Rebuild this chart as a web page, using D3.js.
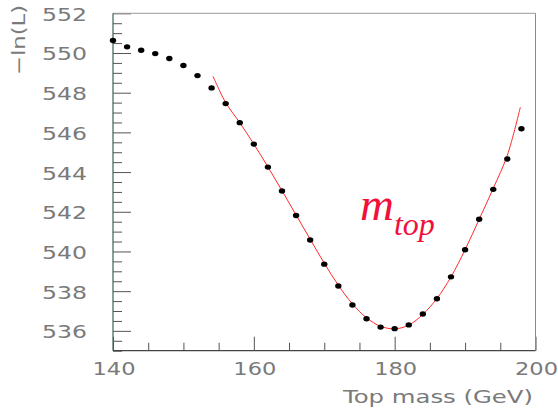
<!DOCTYPE html>
<html>
<head>
<meta charset="utf-8">
<script src="https://cdn.jsdelivr.net/npm/d3@7"></script>
<style>
  html, body { margin: 0; padding: 0; background: #fff; }
  svg { display: block; }
</style>
</head>
<body>
<script>
// ---- data ----
const massX = [140,142,144,146,148,150,152,154,156,158,160,162,164,166,168,170,172,174,176,178,180,182,184,186,188,190,192,194,196,198];
const lnL   = [550.63,550.31,550.14,549.97,549.72,549.37,548.86,548.24,547.45,546.49,545.41,544.25,543.05,541.81,540.58,539.36,538.26,537.30,536.61,536.19,536.11,536.30,536.85,537.62,538.72,540.09,541.62,543.13,544.66,546.18];
const fitX  = [154.2,156,158,160,162,164,166,168,170,172,174,176,178,180,182,184,186,188,190,192,194,196,197.85];
const fitY  = [548.83,547.50,546.49,545.41,544.26,543.06,541.84,540.62,539.41,538.30,537.36,536.66,536.23,536.10,536.29,536.83,537.63,538.72,540.09,541.62,543.18,544.85,547.27];
const xMajor = [140,160,180,200];
const yMajor = [536,538,540,542,544,546,548,550,552];
const xTitle = "Top mass (GeV)";
const yTitle = "\u2212ln(L)";

const W = 558, H = 410;
const L = 113, R = 535.5, T = 13.3, B = 350.7;

const svg = d3.select("body").append("svg").attr("width", W).attr("height", H);
const x = d3.scaleLinear().domain([140, 200]).range([L, R]);
const y = d3.scaleLinear().domain([535, 552]).range([B, T]);

const font = "DejaVu Sans, Verdana, sans-serif";
const grey = "#7a7a7a";

// minor & major ticks (inside)
const yMinor = d3.range(535, 552.01, 0.5).filter(v => !yMajor.includes(v));
const xMinor = d3.range(140, 200.01, 5).filter(v => !xMajor.includes(v));

const gy1 = svg.append("g").attr("transform", `translate(${L},0)`)
  .call(d3.axisLeft(y).tickValues(yMinor).tickSize(-9).tickFormat(""));
const gy2 = svg.append("g").attr("transform", `translate(${L},0)`)
  .call(d3.axisLeft(y).tickValues(yMajor).tickSize(-18).tickFormat(""));
const gx1 = svg.append("g").attr("transform", `translate(0,${B})`)
  .call(d3.axisBottom(x).tickValues(xMinor).tickSize(-8).tickFormat(""));
const gx2 = svg.append("g").attr("transform", `translate(0,${B})`)
  .call(d3.axisBottom(x).tickValues(xMajor).tickSize(-14).tickFormat(""));
[gy1, gy2, gx1, gx2].forEach(g => {
  g.select(".domain").remove();
  g.selectAll("line").attr("stroke", "#555").attr("stroke-width", 1);
});

// frame
svg.append("line").attr("x1", L).attr("x2", R).attr("y1", T).attr("y2", T).attr("stroke", "#9a9a9a");
svg.append("line").attr("x1", R).attr("x2", R).attr("y1", T).attr("y2", B).attr("stroke", "#8a8a8a");
svg.append("line").attr("x1", L).attr("x2", L).attr("y1", T).attr("y2", B).attr("stroke", "#3f5f5f").attr("stroke-width", 1.2);
svg.append("line").attr("x1", L).attr("x2", R).attr("y1", B).attr("y2", B).attr("stroke", "#444").attr("stroke-width", 1.2);

// tick labels
svg.append("g").selectAll("text").data(yMajor).join("text")
  .attr("x", 87).attr("y", d => y(d) + 7.5)
  .attr("text-anchor", "end")
  .attr("textLength", 45).attr("lengthAdjust", "spacingAndGlyphs")
  .attr("font-family", font).attr("font-size", 18.5).attr("fill", grey)
  .text(d => d);
svg.append("g").selectAll("text").data(xMajor).join("text")
  .attr("x", d => x(d) + 1).attr("y", 375)
  .attr("text-anchor", "middle")
  .attr("textLength", 43).attr("lengthAdjust", "spacingAndGlyphs")
  .attr("font-family", font).attr("font-size", 18.5).attr("fill", grey)
  .text(d => d);

// axis titles
svg.append("text").attr("x", 438).attr("y", 403)
  .attr("text-anchor", "middle")
  .attr("textLength", 190).attr("lengthAdjust", "spacingAndGlyphs")
  .attr("font-family", font).attr("font-size", 18.5).attr("fill", grey)
  .text(xTitle);
svg.append("text").attr("transform", "translate(25,40) rotate(-90)")
  .attr("text-anchor", "middle")
  .attr("textLength", 70).attr("lengthAdjust", "spacingAndGlyphs")
  .attr("font-family", font).attr("font-size", 18.5).attr("fill", grey)
  .text(yTitle);

// fit curve
const fit = fitX.map((v, i) => [v, fitY[i]]);
svg.append("path").datum(fit)
  .attr("fill", "none").attr("stroke", "#ff2a2a").attr("stroke-width", 1)
  .attr("d", d3.line().x(d => x(d[0])).y(d => y(d[1])).curve(d3.curveCatmullRom));

// points
svg.append("g").selectAll("ellipse").data(massX).join("ellipse")
  .attr("cx", (d) => x(d)).attr("cy", (d, i) => y(lnL[i]))
  .attr("rx", 3.2).attr("ry", 2.7).attr("fill", "#000");

// m_top label
const lab = svg.append("text").attr("x", 360).attr("y", 220)
  .attr("font-family", "Liberation Serif, Times New Roman, serif")
  .attr("font-style", "italic").attr("fill", "#f0103a");
lab.append("tspan").attr("font-size", 47).text("m");
lab.append("tspan").attr("font-size", 32).attr("dy", 15).text("top");
</script>
</body>
</html>
